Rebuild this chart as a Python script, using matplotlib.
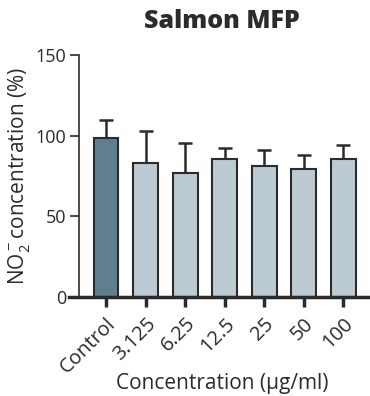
import matplotlib
matplotlib.use("Agg")
import matplotlib.pyplot as plt
import numpy as np

# data
categories = ["Control", "3.125", "6.25", "12.5", "25", "50", "100"]
means = [98.3, 83.3, 77.0, 85.3, 81.4, 79.1, 85.8]
errors = [11.2, 19.4, 18.4, 7.0, 9.5, 8.7, 8.2]

plt.rcParams['font.family'] = ['Open Sans', 'DejaVu Sans']
plt.rcParams['mathtext.fontset'] = 'custom'
plt.rcParams['mathtext.rm'] = 'Open Sans'
plt.rcParams['mathtext.it'] = 'Open Sans'

fig = plt.figure(figsize=(3.7, 3.96), dpi=100)
ax = fig.add_axes([69 / 370, 1 - 297 / 396, 301 / 370, (297 - 55) / 396])

x = np.arange(len(categories))
colors = ["#5f7f91"] + ["#bccbd3"] * (len(categories) - 1)
ax.bar(x, means, width=0.63, color=colors, edgecolor="#2b2b2b", linewidth=1.5, zorder=2)
ax.errorbar(x, means, yerr=[np.zeros(len(errors)), errors], fmt="none",
            ecolor="#2b2b2b", elinewidth=1.8, capsize=4.8, capthick=1.8, zorder=1)

ax.set_xlim(-0.937, 6.68)
ax.set_ylim(0, 150)
ax.set_yticks([0, 50, 100, 150])

for s in ["top", "right"]:
    ax.spines[s].set_visible(False)
ax.spines["left"].set_position(("data", -0.69))
ax.spines["left"].set_linewidth(1.2)
ax.spines["left"].set_color("#2b2b2b")
ax.spines["bottom"].set_linewidth(2.5)
ax.spines["bottom"].set_color("#2b2b2b")

ax.tick_params(axis="y", length=6.5, width=1.2, color="#2b2b2b", labelsize=13, pad=2.5, labelcolor="#2b2b2b")
ax.tick_params(axis="x", length=7, width=2.5, color="#2b2b2b", labelsize=14.5, pad=5, labelcolor="#2b2b2b")
ax.set_xticks(x)
ax.set_xticklabels(categories, rotation=45, ha="right", rotation_mode="anchor")

ax.set_ylabel(r"NO$_2^-$concentration (%)", fontsize=15, color="#2b2b2b")
ax.yaxis.label.set_va("center")
ax.yaxis.set_label_coords((19 - 69) / 301, (297 - 176) / 242)
ax.set_xlabel("Concentration (μg/ml)", fontsize=15, color="#2b2b2b")
ax.xaxis.label.set_va("center")
ax.xaxis.set_label_coords((222 - 69) / 301, (297 - 383) / 242)
fig.text(222 / 370, 1 - 22 / 396, "Salmon MFP", fontsize=18, fontweight="heavy",
         ha="center", va="center", color="#2b2b2b")

fig.savefig("out.png", dpi=100)
